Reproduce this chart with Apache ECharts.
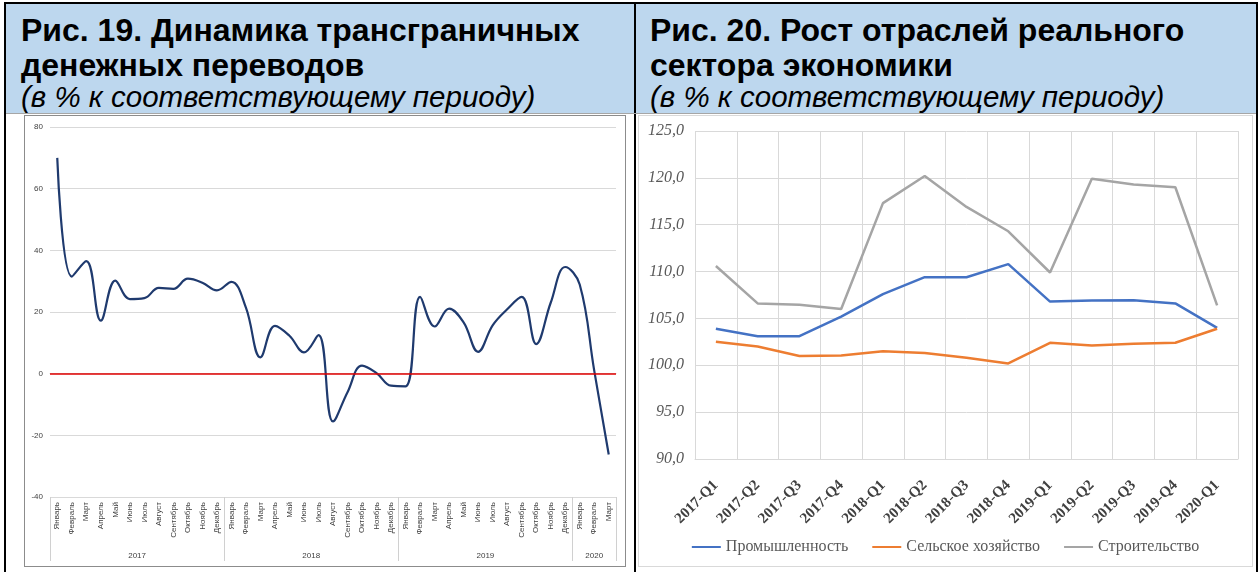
<!DOCTYPE html>
<html>
<head>
<meta charset="utf-8">
<script src="https://cdn.jsdelivr.net/npm/echarts@6/dist/echarts.min.js"></script>
<style>
  html, body { margin: 0; padding: 0; background: #fff; }
  body { width: 1260px; height: 572px; position: relative; overflow: hidden; font-family: "Liberation Sans", Arial, sans-serif; }
  .frame { position: absolute; background: #000; }
  .head { position: absolute; background: #bdd7ee; top: 4px; height: 109px; }
  .line { position: absolute; white-space: nowrap; color: #000; line-height: 1; }
  .bold { font-weight: bold; font-size: 32px; }
  .ital { font-style: italic; font-size: 29.5px; }
  #left-box { position: absolute; left: 24px; top: 115px; width: 600px; height: 450px; border: 1px solid #8c8c8c; }
  #right-box { position: absolute; left: 638px; top: 115px; width: 613px; height: 450px; border: 1px solid #d9d9d9; }
  #left-chart, #right-chart { width: 100%; height: 100%; }
</style>
</head>
<body>
<div class="frame" style="left:4px; top:2px; width:1254px; height:2px;"></div>
<div class="frame" style="left:4px; top:2px; width:2px; height:570px;"></div>
<div class="frame" style="left:634px; top:2px; width:2px; height:570px;"></div>
<div class="frame" style="left:1256px; top:2px; width:2px; height:570px;"></div>
<div class="head" style="left:6px; width:628px;"></div>
<div class="head" style="left:636px; width:620px;"></div>
<div class="frame" style="left:6px; top:113px; width:1250px; height:1px; background:#a6a6a6;"></div>

<div class="line bold" style="left:21px; top:14px;">Рис. 19. Динамика трансграничных</div>
<div class="line bold" style="left:21px; top:49px;">денежных переводов</div>
<div class="line ital" style="left:21px; top:82px;">(в % к соответствующему периоду)</div>
<div class="line bold" style="left:650px; top:14px;">Рис. 20. Рост отраслей реального</div>
<div class="line bold" style="left:650px; top:49px;">сектора экономики</div>
<div class="line ital" style="left:650px; top:82px;">(в % к соответствующему периоду)</div>

<div id="left-box"><div id="left-chart"></div></div>
<div id="right-box"><div id="right-chart"></div></div>

<script>
// Рис. 19 — денежные переводы, помесячно
const monthNames = ["Январь", "Февраль", "Март", "Апрель", "Май", "Июнь", "Июль", "Август", "Сентябрь", "Октябрь", "Ноябрь", "Декабрь"];
const yearLabels = ["2017", "2018", "2019", "2020"];
const yearMonths = [12, 12, 12, 3];
const remittances = [
  70, 31.5, 36.5, 17.2, 30.2, 24.2, 24.5, 27.8, 27.5, 30.8, 29.5, 27,
  29.8, 21.4, 5.3, 15.5, 12.3, 6.9, 12.5, -15.5, -6, 2.6, 0.2, -3.9,
  -4.1, 24.9, 15.3, 21.1, 16.6, 7.1, 15.7, 20.9, 24.9, 9.6, 23, 34.6,
  28.9, 1, -26.2
];
const leftTicks = [-40, -20, 0, 20, 40, 60, 80];

// Рис. 20 — рост отраслей, поквартально
const quarters = ["2017-Q1", "2017-Q2", "2017-Q3", "2017-Q4", "2018-Q1", "2018-Q2", "2018-Q3", "2018-Q4", "2019-Q1", "2019-Q2", "2019-Q3", "2019-Q4", "2020-Q1"];
const industry = [103.9, 103.1, 103.1, 105.2, 107.6, 109.4, 109.4, 110.8, 106.8, 106.9, 106.95, 106.6, 104.0];
const agriculture = [102.5, 102.0, 101.0, 101.05, 101.5, 101.3, 100.8, 100.2, 102.4, 102.1, 102.3, 102.4, 103.9];
const construction = [110.6, 106.6, 106.45, 106.0, 117.3, 120.2, 116.9, 114.3, 109.9, 119.9, 119.3, 119.0, 106.4];
const rightTicks = [90, 95, 100, 105, 110, 115, 120, 125];

const monthCats = [];
yearMonths.forEach((n) => {
  for (let i = 0; i < n; i++) monthCats.push(monthNames[i]);
});
const yearEdges = [0];
const yearCenters = [];
yearMonths.forEach((n) => {
  const start = yearEdges[yearEdges.length - 1];
  yearCenters.push(start + n / 2);
  yearEdges.push(start + n);
});

const leftChart = echarts.init(document.getElementById("left-chart"), null, { renderer: "canvas" });
leftChart.setOption({
  animation: false,
  grid: { left: 25, right: 9, top: 11, bottom: 69 },
  xAxis: [
    {
      type: "category",
      data: monthCats,
      boundaryGap: true,
      axisLine: { lineStyle: { color: "#d0d0d0", width: 1 } },
      axisTick: { show: false },
      axisLabel: { interval: 0, rotate: 90, fontSize: 8, color: "#404040", margin: 5, fontFamily: "Liberation Sans" },
      splitLine: { show: false },
    },
    {
      type: "value",
      position: "bottom",
      min: 0,
      max: monthCats.length,
      axisLine: { show: false },
      axisTick: { show: true, customValues: yearEdges, length: 64, lineStyle: { color: "#d0d0d0" } },
      axisLabel: {
        customValues: yearCenters,
        margin: 55,
        fontSize: 8,
        color: "#404040",
        fontFamily: "Liberation Sans",
        formatter: (v) => yearLabels[yearCenters.indexOf(v)] || "",
      },
      splitLine: { show: false },
    },
  ],
  yAxis: {
    type: "value",
    min: leftTicks[0],
    max: leftTicks[leftTicks.length - 1],
    interval: 20,
    axisLine: { show: false },
    axisTick: { show: false },
    axisLabel: { fontSize: 8, color: "#404040", margin: 7, fontFamily: "Liberation Sans" },
    splitLine: { lineStyle: { color: "#d9d9d9", width: 1 } },
  },
  series: [
    {
      type: "line",
      xAxisIndex: 0,
      data: remittances,
      smooth: 0.4,
      showSymbol: false,
      symbol: "none",
      lineStyle: { color: "#1f3a6e", width: 2.2 },
      markLine: {
        silent: true,
        symbol: "none",
        label: { show: false },
        lineStyle: { color: "#e00000", width: 1.5, type: "solid" },
        data: [{ yAxis: 0 }],
      },
    },
  ],
});

const serif = "Liberation Serif";
const rightChart = echarts.init(document.getElementById("right-chart"), null, { renderer: "canvas" });
rightChart.setOption({
  animation: false,
  color: ["#4472c4", "#ed7d31", "#a5a5a5"],
  grid: { left: 56, right: 14, top: 15, bottom: 107 },
  legend: {
    left: "center",
    top: 418,
    itemWidth: 29,
    itemHeight: 14,
    itemGap: 24,
    icon: "path://M0,6 L29,6 L29,8 L0,8 Z",
    textStyle: { fontFamily: serif, fontSize: 16, color: "#595959" },
    data: ["Промышленность", "Сельское хозяйство", "Строительство"],
  },
  xAxis: {
    type: "category",
    data: quarters,
    boundaryGap: true,
    axisLine: { lineStyle: { color: "#d9d9d9" } },
    axisTick: { show: false },
    axisLabel: { interval: 0, rotate: 45, fontFamily: serif, fontWeight: "bold", fontSize: 15, color: "#404040", margin: 24 },
    splitLine: { show: true, lineStyle: { color: "#d9d9d9" } },
  },
  yAxis: {
    type: "value",
    min: rightTicks[0],
    max: rightTicks[rightTicks.length - 1],
    interval: 5,
    axisLine: { show: false },
    axisTick: { show: false },
    axisLabel: {
      fontFamily: serif,
      fontStyle: "italic",
      fontSize: 16,
      color: "#595959",
      margin: 11,
      formatter: (v) => v.toFixed(1).replace(".", ","),
    },
    splitLine: { lineStyle: { color: "#d9d9d9" } },
  },
  series: [
    { name: "Промышленность", type: "line", data: industry, symbol: "none", lineStyle: { width: 2.5 } },
    { name: "Сельское хозяйство", type: "line", data: agriculture, symbol: "none", lineStyle: { width: 2.5 } },
    { name: "Строительство", type: "line", data: construction, symbol: "none", lineStyle: { width: 2.5 } },
  ],
});
</script>
</body>
</html>
